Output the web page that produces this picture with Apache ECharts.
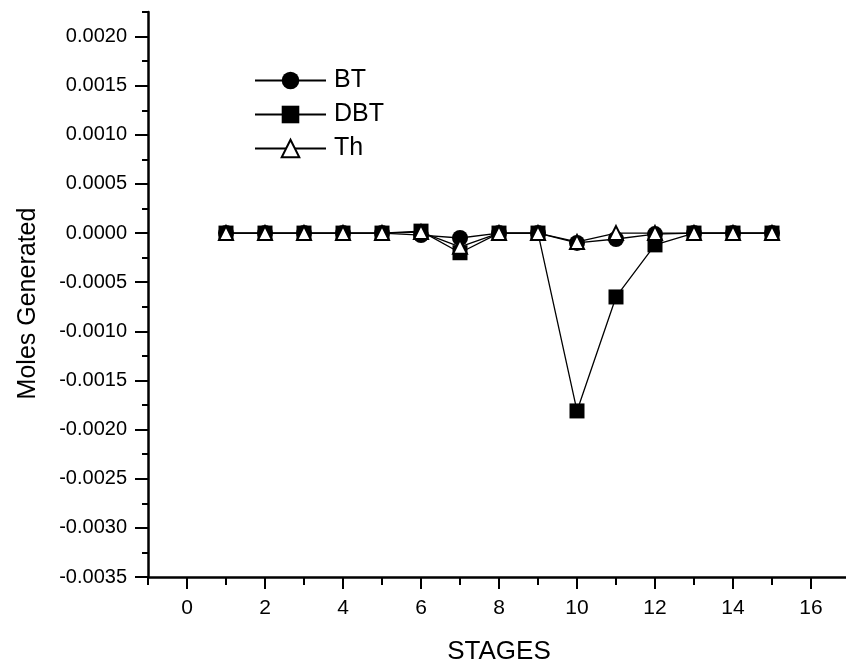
<!DOCTYPE html>
<html>
<head>
<meta charset="utf-8">
<script src="https://cdn.jsdelivr.net/npm/echarts@6/dist/echarts.min.js"></script>
<style>
html,body{margin:0;padding:0;background:#fff;}
#c{width:846px;height:664px;}
</style>
</head>
<body>
<div id="c"></div>
<script>
const stages = [1, 2, 3, 4, 5, 6, 7, 8, 9, 10, 11, 12, 13, 14, 15];
const bt  = [0, 0, 0, 0, 0, -0.00002, -0.00005, 0, 0, -0.00010, -0.00006, -0.00001, 0, 0, 0];
const dbt = [0, 0, 0, 0, 0, 0.00002, -0.00020, 0, 0, -0.00181, -0.00065, -0.00012, 0, 0, 0];
const th  = [0, 0, 0, 0, 0, 0.00001, -0.00014, 0, 0, -0.00009, 0, 0, 0, 0, 0];

const xMajorTicks = [0, 2, 4, 6, 8, 10, 12, 14, 16];
const xMinorTicks = [-1, 1, 3, 5, 7, 9, 11, 13, 15];
const yMajorTicks = [-0.0035, -0.0030, -0.0025, -0.0020, -0.0015, -0.0010, -0.0005, 0, 0.0005, 0.0010, 0.0015, 0.0020];
const yMinorTicks = [-0.00325, -0.00275, -0.00225, -0.00175, -0.00125, -0.00075, -0.00025, 0.00025, 0.00075, 0.00125, 0.00175, 0.00225];

const X_MIN = -1, X_MAX = 17, Y_MIN = -0.0035, Y_MAX = 0.00225;
const FONT = 'Liberation Sans, Arial, sans-serif';

const pairs = arr => stages.map((s, i) => [s, arr[i]]);

const chart = echarts.init(document.getElementById('c'), null, {renderer: 'canvas'});
const gridBox = {left: 148, right: -4, top: 12, bottom: 87, outerBoundsMode: 'none', containLabel: false};

chart.setOption({
  animation: false,
  backgroundColor: '#fff',
  grid: [Object.assign({}, gridBox), Object.assign({}, gridBox)],
  legend: {
    orient: 'vertical',
    left: 249,
    top: 63,
    itemWidth: 71,
    itemHeight: 22,
    itemGap: 9,
    data: ['BT', 'DBT', 'Th'],
    textStyle: {fontFamily: FONT, fontSize: 25, color: '#000', padding: [0, 0, 0, 3]}
  },
  xAxis: [
    {
      type: 'value', gridIndex: 0, min: X_MIN, max: X_MAX,
      name: 'STAGES', nameLocation: 'middle', nameGap: 62,
      nameTextStyle: {fontFamily: FONT, fontSize: 26, color: '#000'},
      axisLine: {show: true, onZero: false, lineStyle: {color: '#000', width: 2.5}},
      axisTick: {show: true, customValues: xMajorTicks, length: 12, lineStyle: {color: '#000', width: 2}},
      axisLabel: {customValues: xMajorTicks, margin: 21, fontFamily: FONT, fontSize: 21, color: '#000'},
      splitLine: {show: false}
    },
    {
      type: 'value', gridIndex: 1, min: X_MIN, max: X_MAX,
      axisLine: {show: false, onZero: false},
      axisTick: {show: true, customValues: xMinorTicks, length: 8, lineStyle: {color: '#000', width: 2}},
      axisLabel: {show: false},
      splitLine: {show: false}
    }
  ],
  yAxis: [
    {
      type: 'value', gridIndex: 0, min: Y_MIN, max: Y_MAX,
      name: 'Moles Generated', nameLocation: 'middle', nameGap: 107,
      nameTextStyle: {fontFamily: FONT, fontSize: 25, color: '#000', padding: [0, 18, 0, 0]},
      axisLine: {show: true, onZero: false, lineStyle: {color: '#000', width: 2.5}},
      axisTick: {show: true, customValues: yMajorTicks, length: 13, lineStyle: {color: '#000', width: 2}},
      axisLabel: {customValues: yMajorTicks, margin: 21, fontFamily: FONT, fontSize: 20, color: '#000',
        formatter: v => v.toFixed(4)},
      splitLine: {show: false}
    },
    {
      type: 'value', gridIndex: 1, min: Y_MIN, max: Y_MAX,
      axisLine: {show: false, onZero: false},
      axisTick: {show: true, customValues: yMinorTicks, length: 6, lineStyle: {color: '#000', width: 2}},
      axisLabel: {show: false},
      splitLine: {show: false}
    }
  ],
  series: [
    {
      name: 'BT', type: 'line', xAxisIndex: 0, yAxisIndex: 0, data: pairs(bt),
      symbol: 'circle', symbolSize: 16,
      lineStyle: {color: '#000', width: 1.3},
      itemStyle: {color: '#000'}
    },
    {
      name: 'DBT', type: 'line', xAxisIndex: 0, yAxisIndex: 0, data: pairs(dbt),
      symbol: 'rect', symbolSize: 15,
      lineStyle: {color: '#000', width: 1.3},
      itemStyle: {color: '#000'}
    },
    {
      name: 'Th', type: 'line', xAxisIndex: 0, yAxisIndex: 0, data: pairs(th),
      symbol: 'triangle', symbolSize: 14,
      lineStyle: {color: '#000', width: 1.3},
      itemStyle: {color: '#fff', borderColor: '#000', borderWidth: 2}
    }
  ]
});
</script>
</body>
</html>
